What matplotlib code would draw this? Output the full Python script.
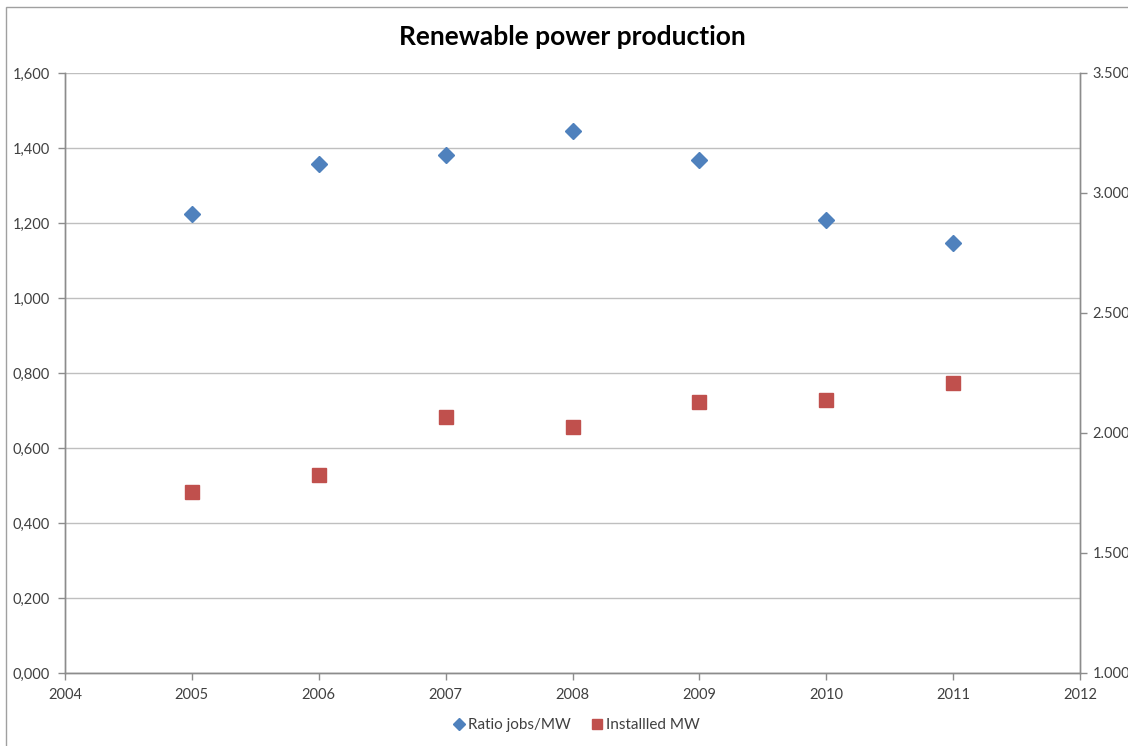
import matplotlib.pyplot as plt
from matplotlib.ticker import FuncFormatter, MultipleLocator
from matplotlib.patches import Rectangle

years = [2005, 2006, 2007, 2008, 2009, 2010, 2011]
ratio_jobs_mw = [1.224, 1.357, 1.381, 1.445, 1.368, 1.208, 1.147]
installed_mw = [1.754, 1.825, 2.067, 2.025, 2.129, 2.137, 2.208]

BLUE = "#4F81BD"
RED = "#C0504D"
GRID = "#BFBFBF"
AXIS = "#8C8C8C"
TXT = "#404040"

plt.rcParams["font.family"] = ["Lato", "DejaVu Sans"]

fig = plt.figure(figsize=(11.28, 7.46), dpi=100)
ax = fig.add_axes([65 / 1128, 1 - 673 / 746, 1015 / 1128, 600 / 746])
ax2 = ax.twinx()

# --- series ---
l1, = ax.plot(years, ratio_jobs_mw, linestyle="none", marker="D",
              markersize=8, color=BLUE, label="Ratio jobs/MW")
l2, = ax2.plot(years, installed_mw, linestyle="none", marker="s",
               markersize=9.5, color=RED, label="Installled MW")

# --- axes ---
ax.set_xlim(2004, 2012)
ax.set_ylim(0, 1.6)
ax2.set_ylim(1.0, 3.5)
ax.xaxis.set_major_locator(MultipleLocator(1))
ax.yaxis.set_major_locator(MultipleLocator(0.2))
ax2.yaxis.set_major_locator(MultipleLocator(0.5))

ax.yaxis.set_major_formatter(FuncFormatter(lambda v, p: f"{v:.3f}".replace(".", ",")))
ax2.yaxis.set_major_formatter(FuncFormatter(lambda v, p: f"{v:.3f}"))
ax.xaxis.set_major_formatter(FuncFormatter(lambda v, p: f"{int(round(v))}"))

ax.grid(axis="y", color=GRID, linewidth=1)
ax.set_axisbelow(True)

for a in (ax, ax2):
    a.spines["top"].set_visible(False)
    for s in ("left", "right", "bottom"):
        a.spines[s].set_color(AXIS)
        a.spines[s].set_linewidth(1)
    a.tick_params(colors=AXIS, labelcolor=TXT, labelsize=10.5, length=5, width=1)
ax.tick_params(axis="y", pad=6)
ax2.tick_params(axis="y", pad=4)
ax.tick_params(axis="x", pad=6)

ax.set_title("Renewable power production", fontsize=19, fontweight="bold",
             color="black", pad=20)

fig.legend([l1, l2], ["Ratio jobs/MW", "Installled MW"], loc="center",
           bbox_to_anchor=(576 / 1128, 1 - 725 / 746), ncol=2, frameon=False,
           fontsize=11, handletextpad=0.2, columnspacing=1.3, handlelength=0.8,
           markerscale=0.75, labelcolor=TXT)

# chart area border (cut off on the right like the source)
fig.patches.append(Rectangle((6 / 1128, -0.05), 1.2, 1.05 - 7 / 746,
                             transform=fig.transFigure, fill=False,
                             edgecolor="#A0A0A0", linewidth=1, clip_on=False))

fig.savefig("out.png", dpi=100)
